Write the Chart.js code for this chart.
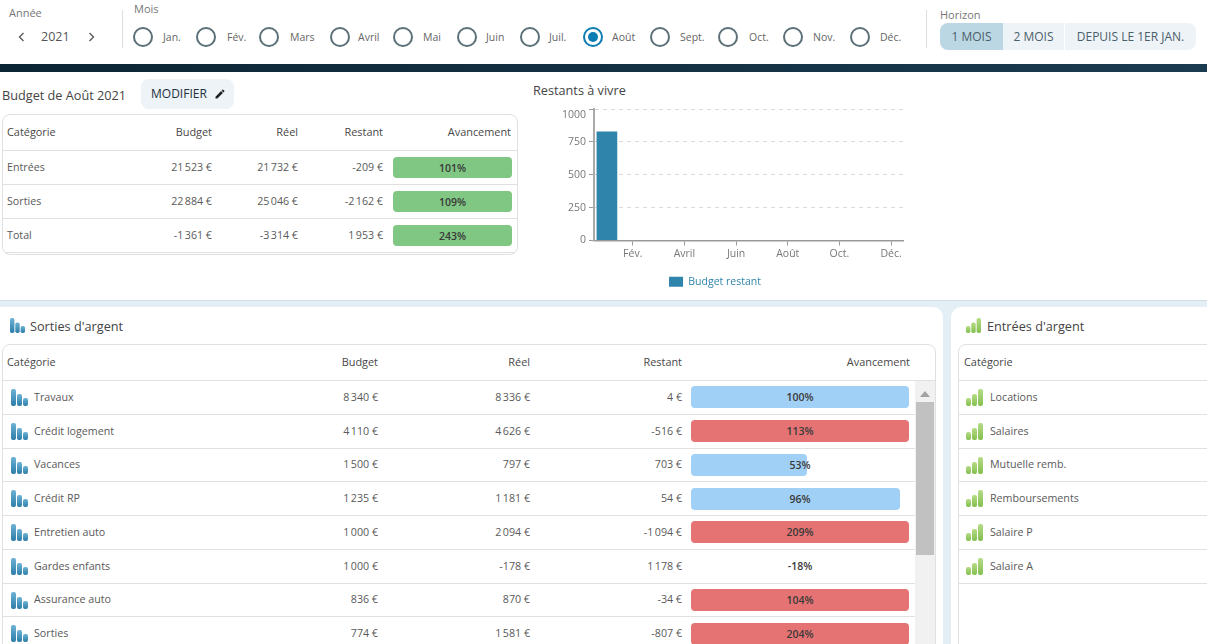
<!DOCTYPE html>
<html lang="fr">
<head>
<meta charset="utf-8">
<title>Budget</title>
<script src="https://cdn.jsdelivr.net/npm/chart.js@4/dist/chart.umd.min.js"></script>
<style>
  html, body { margin: 0; padding: 0; width: 1207px; height: 644px; overflow: hidden; background: #fff; }
  body { font-family: "Open Sans", "Noto Sans", sans-serif; font-size: 11px; color: #555; position: relative; }
  .abs { position: absolute; white-space: nowrap; }
  .lbl { color: #777; font-size: 11px; line-height: 14px; }
  .radio { position: absolute; top: 27px; width: 16px; height: 16px; border: 2px solid #5b7077; border-radius: 50%; box-sizing: content-box; }
  .radio.on { border-color: #0b7db3; }
  .radio.on::after { content: ""; position: absolute; left: 3px; top: 3px; width: 10px; height: 10px; border-radius: 50%; background: #0b7db3; }
  .btn { position: absolute; top: 23px; height: 27px; line-height: 27px; text-align: center; font-size: 12px; color: #4b5f6a; background: #eef3f7; }
  .band { position: absolute; left: 0; top: 64px; width: 1207px; height: 8px; background: linear-gradient(90deg, #0c2534, #1b3b50); }
  .title { font-size: 12.7px; color: #444; line-height: 18px; }
  .tbl { position: absolute; border: 1px solid #e0e0e0; border-radius: 8px; box-sizing: border-box; background: #fff; overflow: hidden; }
  .row { position: absolute; left: 0; right: 0; border-bottom: 1px solid #e0e0e0; box-sizing: border-box; }
  .cell { position: absolute; top: 0; bottom: 0; display: flex; align-items: center; white-space: nowrap; font-size: 10.7px; color: #5a5a5a; }
  .cell.r { justify-content: flex-end; }
  .head .cell { bottom: 2px; color: #484848; font-size: 10.9px; }
  .bar { position: absolute; border-radius: 4px; }
  .pct { position: absolute; text-align: center; font-weight: 600; font-size: 10.5px; color: #3a3a3a; display: flex; align-items: center; justify-content: center; }
</style>
</head>
<body>
<svg width="0" height="0" style="position:absolute">
  <defs>
    <linearGradient id="gBlue" x1="0" y1="0" x2="0" y2="1"><stop offset="0" stop-color="#6fb3d6"/><stop offset="1" stop-color="#2b7da8"/></linearGradient>
    <linearGradient id="gGreen" x1="0" y1="0" x2="0" y2="1"><stop offset="0" stop-color="#b6dc86"/><stop offset="1" stop-color="#83bf4f"/></linearGradient>
  </defs>
</svg>

<div id="top"></div>
<div class="band"></div>

<div class="abs title" style="left:2px;top:86px">Budget de Août 2021</div>
<div class="abs" style="left:141px;top:79px;width:93px;height:30px;border-radius:8px;background:#eef3f7;color:#22303c;font-size:12px;line-height:30px;padding-left:10px;box-sizing:border-box">MODIFIER
  <svg width="12" height="12" viewBox="0 0 24 24" style="position:absolute;left:73px;top:9px"><path fill="#222" d="M3 17.25V21h3.75L17.8 9.94l-3.75-3.75L3 17.25zM20.7 7.04a1 1 0 0 0 0-1.41l-2.34-2.34a1 1 0 0 0-1.41 0l-1.83 1.83 3.75 3.75 1.83-1.83z"/></svg>
</div>
<div id="budgetTable"></div>

<div class="abs title" style="left:533px;top:81px">Restants à vivre</div>
<canvas id="restants" width="378" height="200" style="position:absolute;left:526px;top:100px"></canvas>

<div class="abs" style="left:0;top:300px;width:1207px;height:344px;background:#e4eff5;border-top:1px solid #cfdfe8;box-sizing:border-box"></div>
<div class="abs" style="left:0;top:307px;width:943px;height:337px;background:#fff;border-radius:0 10px 0 0"></div>
<div class="abs" style="left:951px;top:307px;width:256px;height:337px;background:#fff;border-radius:10px 0 0 0"></div>

<div id="sortiesIcon"></div>
<div class="abs title" style="left:30px;top:317px">Sorties d'argent</div>
<div id="sortiesTable"></div>
<div id="entreesIcon"></div>
<div class="abs title" style="left:987px;top:317px">Entrées d'argent</div>
<div id="entreesTable"></div>

<script>
// chart data
const monthLabels = ["Jan.", "Fév.", "Mars", "Avril", "Mai", "Juin", "Juil.", "Août", "Sept.", "Oct.", "Nov.", "Déc."];
const budgetRestant = [828, null, null, null, null, null, null, null, null, null, null, null];
const yTicks = [0, 250, 500, 750, 1000];

// budget summary table
const budgetCats = ["Entrées", "Sorties", "Total"];
const budgetPrevu = [21523, 22884, -1361];
const budgetReel = [21732, 25046, -3314];
const budgetRest = [-209, -2162, 1953];
const budgetPct = [101, 109, 243];

// sorties table
const sortiesCats = ["Travaux", "Crédit logement", "Vacances", "Crédit RP", "Entretien auto", "Gardes enfants", "Assurance auto", "Sorties"];
const sortiesBudget = [8340, 4110, 1500, 1235, 1000, 1000, 836, 774];
const sortiesReel = [8336, 4626, 797, 1181, 2094, -178, 870, 1581];
const sortiesRest = [4, -516, 703, 54, -1094, 1178, -34, -807];
const sortiesPct = [100, 113, 53, 96, 209, -18, 104, 204];

const entreesCats = ["Locations", "Salaires", "Mutuelle remb.", "Remboursements", "Salaire P", "Salaire A"];

const euro = n => {
  const s = String(Math.abs(n)).replace(/\B(?=(\d{3})+$)/g, "\u202f");
  return (n < 0 ? "-" : "") + s + " €";
};

const put = (parent, html) => parent.insertAdjacentHTML("beforeend", html);

const icon = (x, y, green) => {
  const h = green ? [8, 12, 17] : [17, 12, 8];
  const fill = green ? "url(#gGreen)" : "url(#gBlue)";
  const bars = h.map((v, i) => `<rect x="${i * 6}" y="${17 - v}" width="5" height="${v}" rx="2" fill="${fill}"/>`).join("");
  return `<svg class="abs" width="17" height="17" style="left:${x}px;top:${y}px">${bars}</svg>`;
};

// top filter bar
const top_ = document.getElementById("top");
put(top_, `<div class="abs lbl" style="left:9px;top:6px">Année</div>
  <div class="abs" style="left:41px;top:28px;font-size:12.5px;line-height:18px;color:#555">2021</div>
  <svg class="abs" width="10" height="12" style="left:17px;top:31px"><path d="M6.5 2 L2.5 6 L6.5 10" fill="none" stroke="#555" stroke-width="1.3"/></svg>
  <svg class="abs" width="10" height="12" style="left:87px;top:31px"><path d="M2.5 2 L6.5 6 L2.5 10" fill="none" stroke="#555" stroke-width="1.3"/></svg>
  <div class="abs" style="left:122px;top:10px;width:1px;height:38px;background:#ddd"></div>
  <div class="abs lbl" style="left:134px;top:2px">Mois</div>
  <div class="abs" style="left:926px;top:10px;width:1px;height:38px;background:#ddd"></div>
  <div class="abs lbl" style="left:940px;top:8px">Horizon</div>
  <div class="btn" style="left:940px;width:63px;background:#bcd7e4;border-radius:8px 0 0 8px">1 MOIS</div>
  <div class="btn" style="left:1003px;width:61px">2 MOIS</div>
  <div class="btn" style="left:1065px;width:131px;border-radius:0 8px 8px 0">DEPUIS LE 1ER JAN.</div>`);
const radioX = [143, 206, 269, 340, 403, 467, 530, 593, 660, 728, 793, 860];
const labelX = [163, 227, 290, 358, 423, 486, 549, 612, 680, 749, 813, 880];
monthLabels.forEach((m, i) => {
  put(top_, `<div class="radio${m === "Août" ? " on" : ""}" style="left:${radioX[i] - 10}px"></div>
    <div class="abs" style="left:${labelX[i]}px;top:30px;font-size:10.5px;line-height:14px;color:#666">${m}</div>`);
});

// generic table builder
const buildTable = (host, box, cols, rows, rowH, headH) => {
  let html = `<div class="tbl" style="left:${box.x}px;top:${box.y}px;width:${box.w}px;height:${box.h}px;${box.css || ""}">`;
  html += `<div class="row head" style="top:0;height:${headH}px">`;
  cols.forEach(c => {
    html += `<div class="cell ${c.r ? "r" : ""}" style="${c.r ? `right:${box.w - c.r}px` : `left:${c.l}px`}">${c.t}</div>`;
  });
  html += "</div>";
  rows.forEach((r, i) => {
    html += `<div class="row" style="top:${headH + i * rowH}px;height:${rowH}px">${r}</div>`;
  });
  host.innerHTML = html + "</div>";
};
const bar = (pct, x, w, h, rowH, color) => {
  const top = (rowH - 1 - h) / 2;
  const bw = pct > 0 ? Math.min(pct, 100) / 100 * w : 0;
  return `<div class="bar" style="left:${x}px;top:${top}px;width:${bw}px;height:${h}px;background:${color}"></div>
    <div class="pct" style="left:${x}px;top:${top}px;width:${w}px;height:${h}px">${pct}%</div>`;
};
const numCell = (v, r, w) => `<div class="cell r" style="right:${w - r}px;bottom:1px">${euro(v)}</div>`;

// budget table
buildTable(document.getElementById("budgetTable"),
  { x: 2, y: 114, w: 516, h: 141 },
  [{ t: "Catégorie", l: 4 }, { t: "Budget", r: 211 }, { t: "Réel", r: 297 }, { t: "Restant", r: 382 }, { t: "Avancement", r: 510 }],
  budgetCats.map((c, i) => `<div class="cell" style="left:4px;bottom:1px">${c}</div>`
    + numCell(budgetPrevu[i], 211, 516) + numCell(budgetReel[i], 297, 516) + numCell(budgetRest[i], 382, 516)
    + bar(budgetPct[i], 390, 119, 21, 34, "#7fc782")),
  34, 36);

// sorties table
buildTable(document.getElementById("sortiesTable"),
  { x: 2, y: 344, w: 934, h: 320 },
  [{ t: "Catégorie", l: 4 }, { t: "Budget", r: 377 }, { t: "Réel", r: 529 }, { t: "Restant", r: 681 }, { t: "Avancement", r: 909 }],
  sortiesCats.map((c, i) => icon(8, 8, false) + `<div class="cell" style="left:31px;bottom:1px">${c}</div>`
    + numCell(sortiesBudget[i], 377, 934) + numCell(sortiesReel[i], 529, 934) + numCell(sortiesRest[i], 681, 934)
    + bar(sortiesPct[i], 688, 218, 22, 33.75, sortiesPct[i] > 100 ? "#e57373" : "#a0d0f5")),
  33.75, 36);
put(document.querySelector("#sortiesTable .tbl"), `
  <div class="abs" style="left:912px;top:36px;width:20px;height:290px;background:#f1f1f1"></div>
  <div class="abs" style="left:913px;top:57px;width:18px;height:153px;background:#c1c1c1"></div>
  <svg class="abs" width="10" height="6" style="left:917px;top:46px"><path d="M0 6 L5 0 L10 6 Z" fill="#a3a3a3"/></svg>`);

// entrees table
buildTable(document.getElementById("entreesTable"),
  { x: 958, y: 344, w: 270, h: 320 },
  [{ t: "Catégorie", l: 5 }],
  entreesCats.map(c => icon(7, 8, true) + `<div class="cell" style="left:31px;bottom:1px">${c}</div>`),
  33.75, 36);

document.getElementById("sortiesIcon").innerHTML = icon(10, 318, false).replace('width="17" height="17"', 'width="15" height="15" viewBox="0 0 17 17"');
document.getElementById("entreesIcon").innerHTML = icon(966, 318, true).replace('width="17" height="17"', 'width="15" height="15" viewBox="0 0 17 17"');

// restants a vivre chart
new Chart(document.getElementById("restants").getContext("2d"), {
  type: "bar",
  data: {
    labels: monthLabels,
    datasets: [{
      label: "Budget restant",
      data: budgetRestant,
      backgroundColor: "#2e84ab",
      barPercentage: 0.8,
      categoryPercentage: 1
    }]
  },
  options: {
    responsive: false,
    animation: false,
    layout: { padding: { top: 9, right: 0, bottom: 3, left: 0 } },
    plugins: {
      tooltip: { enabled: false },
      legend: {
        position: "bottom",
        labels: { boxWidth: 14, boxHeight: 10, padding: 3, color: "#2e84ab", font: { family: "Open Sans", size: 10.5 } }
      }
    },
    scales: {
      x: {
        afterBuildTicks: scale => { scale.ticks = scale.ticks.filter(t => t.value % 2 === 1); },
        afterFit: scale => { scale.height = 33; },
        border: { color: "#999", width: 1.5 },
        grid: { offset: false, drawOnChartArea: false, tickLength: 5, tickColor: "#999" },
        ticks: {
          autoSkip: false, maxRotation: 0, padding: 2, color: "#777",
          font: { family: "Open Sans", size: 10.5 },
          callback: function (v) { return this.getLabelForValue(v); }
        }
      },
      y: {
        min: 0,
        max: 1000,
        afterBuildTicks: scale => { scale.ticks = yTicks.map(value => ({ value })); },
        afterFit: scale => { scale.width = 68; scale.paddingTop = 0; },
        border: { color: "#aaa", width: 2, dash: [4, 4] },
        grid: { color: "#d9d9d9", tickLength: 5, tickColor: "#999", tickBorderDash: [] },
        ticks: {
          padding: 3, color: "#777",
          font: { family: "Open Sans", size: 10.5 },
          callback: v => (v === 1000 ? ["", "1000"] : String(v))
        }
      }
    }
  }
});
</script>
</body>
</html>
